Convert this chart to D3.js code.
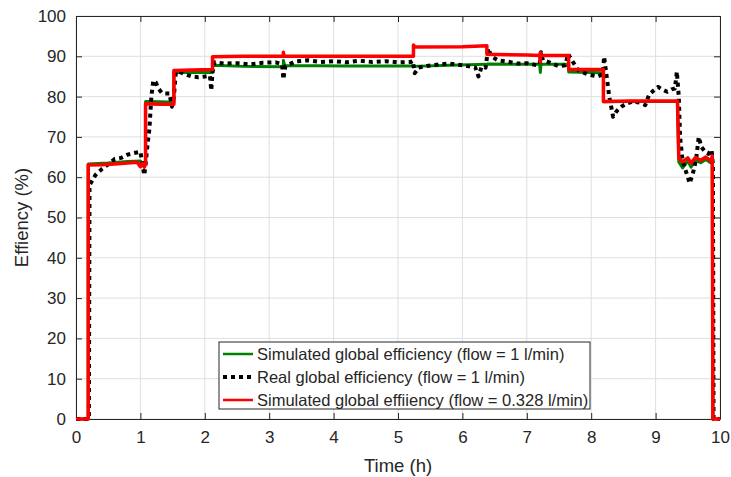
<!DOCTYPE html>
<html>
<head>
<meta charset="utf-8">
<script src="https://cdn.jsdelivr.net/npm/d3@7"></script>
<style>
  body { margin: 0; background: #fff; }
  text { font-family: "Liberation Sans", Arial, sans-serif; fill: #262626; }
</style>
</head>
<body>
<script>
// tick values
var xTicks = [0, 1, 2, 3, 4, 5, 6, 7, 8, 9, 10];
var yTicks = [0, 10, 20, 30, 40, 50, 60, 70, 80, 90, 100];

// series: [time (h), efficiency (%)]
var simFlow1 = [[0,0],[0.19,0],[0.19,63.3],[0.5,63.5],[0.8,63.9],[1.0,64.0],[1.05,63.3],[1.08,64],[1.08,78.8],[1.3,78.7],[1.52,78.6],[1.52,86.0],[1.8,86.0],[2.12,86.0],[2.12,87.8],[2.6,87.5],[3.22,87.4],[3.22,89.0],[3.24,87.7],[4.2,87.6],[5.24,87.6],[5.24,87.5],[5.8,87.8],[6.38,88.0],[6.4,88.1],[7.0,88.0],[7.2,88.0],[7.21,86.0],[7.22,88.0],[7.65,88.0],[7.65,86.1],[8.19,85.9],[8.19,78.7],[8.6,78.8],[9.34,78.8],[9.36,63.8],[9.42,62.3],[9.5,64.0],[9.55,62.5],[9.62,64.2],[9.7,63.6],[9.78,64.4],[9.86,63.5],[9.88,64.5],[9.89,0],[10,0]];

var realFlow1 = [[0,0],[0.2,0],[0.21,58],[0.3,60.5],[0.4,62],[0.5,63.2],[0.6,64.5],[0.7,64.8],[0.8,65.6],[0.9,66],[1.0,66.3],[1.03,63.5],[1.06,60.5],[1.08,63],[1.11,68],[1.14,72],[1.17,80],[1.2,84],[1.24,83.5],[1.28,82],[1.33,81],[1.38,80.8],[1.45,80.8],[1.49,77.5],[1.52,80],[1.55,86],[1.6,86.2],[1.7,85.5],[1.8,85],[1.9,84.8],[2.0,85],[2.08,85.2],[2.1,81.5],[2.12,86],[2.15,88.5],[2.3,88.2],[2.5,88.3],[2.7,88.0],[2.9,88.4],[3.1,88.5],[3.2,88],[3.22,84.3],[3.25,87.5],[3.4,88.7],[3.6,89.0],[3.8,88.6],[4.0,88.8],[4.2,88.5],[4.4,88.9],[4.6,88.6],[4.8,88.8],[5.0,88.5],[5.2,88.6],[5.23,88.9],[5.26,85.8],[5.32,87.2],[5.45,87.6],[5.6,87.9],[5.8,88.2],[6.0,87.8],[6.1,87.5],[6.2,87.2],[6.25,85],[6.3,87.5],[6.36,87.2],[6.4,92],[6.45,90],[6.55,89],[6.7,88.7],[6.85,88.2],[7.0,88.3],[7.15,87.8],[7.2,88.0],[7.22,91],[7.25,89],[7.35,88.5],[7.5,87.5],[7.6,87.8],[7.64,90.6],[7.7,89],[7.8,86.5],[7.95,85.5],[8.1,85],[8.18,85.5],[8.2,89.9],[8.24,85],[8.28,80],[8.34,75],[8.4,76.5],[8.47,77.5],[8.55,78.3],[8.65,78.8],[8.75,78.5],[8.84,77.9],[8.9,80.5],[8.97,81.5],[9.04,82.4],[9.1,81.8],[9.18,81.2],[9.25,81.8],[9.3,82],[9.33,86.2],[9.36,80],[9.38,70],[9.42,64],[9.47,61.5],[9.53,58.5],[9.58,61],[9.63,64.5],[9.67,70],[9.71,67.5],[9.76,66.5],[9.82,65.8],[9.87,66.8],[9.89,63],[9.9,0],[10,0]];

var simFlow0328 = [[0,0],[0.19,0],[0.19,63.0],[0.4,63.1],[0.6,63.3],[0.8,63.5],[0.95,63.7],[1.0,62.6],[1.03,63.4],[1.06,62.5],[1.08,63.2],[1.08,78.2],[1.3,78.1],[1.52,78.1],[1.52,86.5],[1.8,86.6],[2.12,86.7],[2.12,89.9],[2.6,90.0],[3.22,90.0],[3.22,91.0],[3.23,90.0],[4.2,90.0],[5.24,90.0],[5.24,92.8],[5.26,92.3],[6.0,92.4],[6.38,92.6],[6.38,90.5],[7.0,90.3],[7.2,90.2],[7.21,88.5],[7.21,90.9],[7.22,90.2],[7.65,90.2],[7.65,86.7],[8.19,86.7],[8.19,78.8],[8.6,78.9],[9.34,78.9],[9.36,64.7],[9.42,63.8],[9.5,64.8],[9.55,63.5],[9.62,64.9],[9.7,64.2],[9.78,65.0],[9.86,64.0],[9.88,65.3],[9.89,0],[10,0]];

var legendLabels = [
  "Simulated global efficiency (flow = 1 l/min)",
  "Real global efficiency (flow = 1 l/min)",
  "Simulated global effiiency (flow = 0.328 l/min)"
];

var width = 731;
var height = 477;
var margin = { top: 16, left: 76, right: 11, bottom: 58 };

var svg = d3.select("body")
  .append("svg")
  .attr("width", width)
  .attr("height", height);

var xScale = d3.scaleLinear()
  .domain([0, 10])
  .range([margin.left, width - margin.right]);

var yScale = d3.scaleLinear()
  .domain([0, 100])
  .range([height - margin.bottom, margin.top]);

// grid
svg.append("g").selectAll("line").data(xTicks).join("line")
  .attr("x1", d => xScale(d)).attr("x2", d => xScale(d))
  .attr("y1", yScale(0)).attr("y2", yScale(100))
  .attr("stroke", "#dfdfdf").attr("stroke-width", 1);
svg.append("g").selectAll("line").data(yTicks).join("line")
  .attr("x1", xScale(0)).attr("x2", xScale(10))
  .attr("y1", d => yScale(d)).attr("y2", d => yScale(d))
  .attr("stroke", "#dfdfdf").attr("stroke-width", 1);

// axes (ticks inward, box around)
var tickLen = 6;
var xAxis = svg.append("g")
  .attr("transform", `translate(0,${yScale(0)})`)
  .call(d3.axisBottom(xScale).tickValues(xTicks).tickSizeInner(-tickLen).tickSizeOuter(0).tickPadding(12));
var xAxisTop = svg.append("g")
  .attr("transform", `translate(0,${yScale(100)})`)
  .call(d3.axisTop(xScale).tickValues(xTicks).tickSizeInner(-tickLen).tickSizeOuter(0).tickFormat(""));
var yAxis = svg.append("g")
  .attr("transform", `translate(${xScale(0)},0)`)
  .call(d3.axisLeft(yScale).tickValues(yTicks).tickSizeInner(-tickLen).tickSizeOuter(0).tickPadding(10));
var yAxisRight = svg.append("g")
  .attr("transform", `translate(${xScale(10)},0)`)
  .call(d3.axisRight(yScale).tickValues(yTicks).tickSizeInner(-tickLen).tickSizeOuter(0).tickFormat(""));

svg.selectAll(".domain").attr("stroke", "#262626");
svg.selectAll(".tick line").attr("stroke", "#262626");
svg.selectAll(".tick text")
  .attr("font-size", "17px")
  .attr("font-family", "Liberation Sans, Arial, sans-serif")
  .attr("fill", "#262626");

var xlabel = svg.append("text")
  .attr("x", (xScale(0) + xScale(10)) / 2)
  .attr("y", 472)
  .style("text-anchor", "middle")
  .attr("font-size", "18.5px")
  .text("Time (h)");

var ylabel = svg.append("text")
  .attr("x", -(yScale(0) + yScale(100)) / 2)
  .attr("y", 28)
  .style("text-anchor", "middle")
  .attr("transform", "rotate(-90)")
  .attr("font-size", "18.5px")
  .text("Effiency (%)");

var line = d3.line()
  .x(function(d) { return xScale(d[0]); })
  .y(function(d) { return yScale(d[1]); });

var styles = [
  { data: simFlow1, color: "#008000", width: 3, dash: null },
  { data: realFlow1, color: "#000000", width: 4, dash: "4,4" },
  { data: simFlow0328, color: "#ff0000", width: 3.5, dash: null }
];

styles.forEach(function(s) {
  svg.append("path")
    .datum(s.data)
    .attr("d", line)
    .attr("fill", "none")
    .attr("stroke", s.color)
    .attr("stroke-width", s.width)
    .attr("stroke-dasharray", s.dash)
    .attr("stroke-linejoin", "round");
});

// legend
var legend = svg.append("g").attr("transform", "translate(219,342)");
legend.append("rect")
  .attr("width", 371).attr("height", 67)
  .attr("fill", "#fff").attr("stroke", "#262626").attr("stroke-width", 1);

legendLabels.forEach(function(label, i) {
  var s = styles[i];
  var y = 12 + i * 23;
  legend.append("line")
    .attr("x1", 4).attr("x2", 34)
    .attr("y1", y).attr("y2", y)
    .attr("stroke", s.color)
    .attr("stroke-width", i === 1 ? 4 : 2.5)
    .attr("stroke-dasharray", s.dash);
  legend.append("text")
    .attr("x", 38).attr("y", y + 6)
    .attr("font-size", "16.5px")
    .attr("fill", "#000")
    .text(label);
});
</script>
</body>
</html>
